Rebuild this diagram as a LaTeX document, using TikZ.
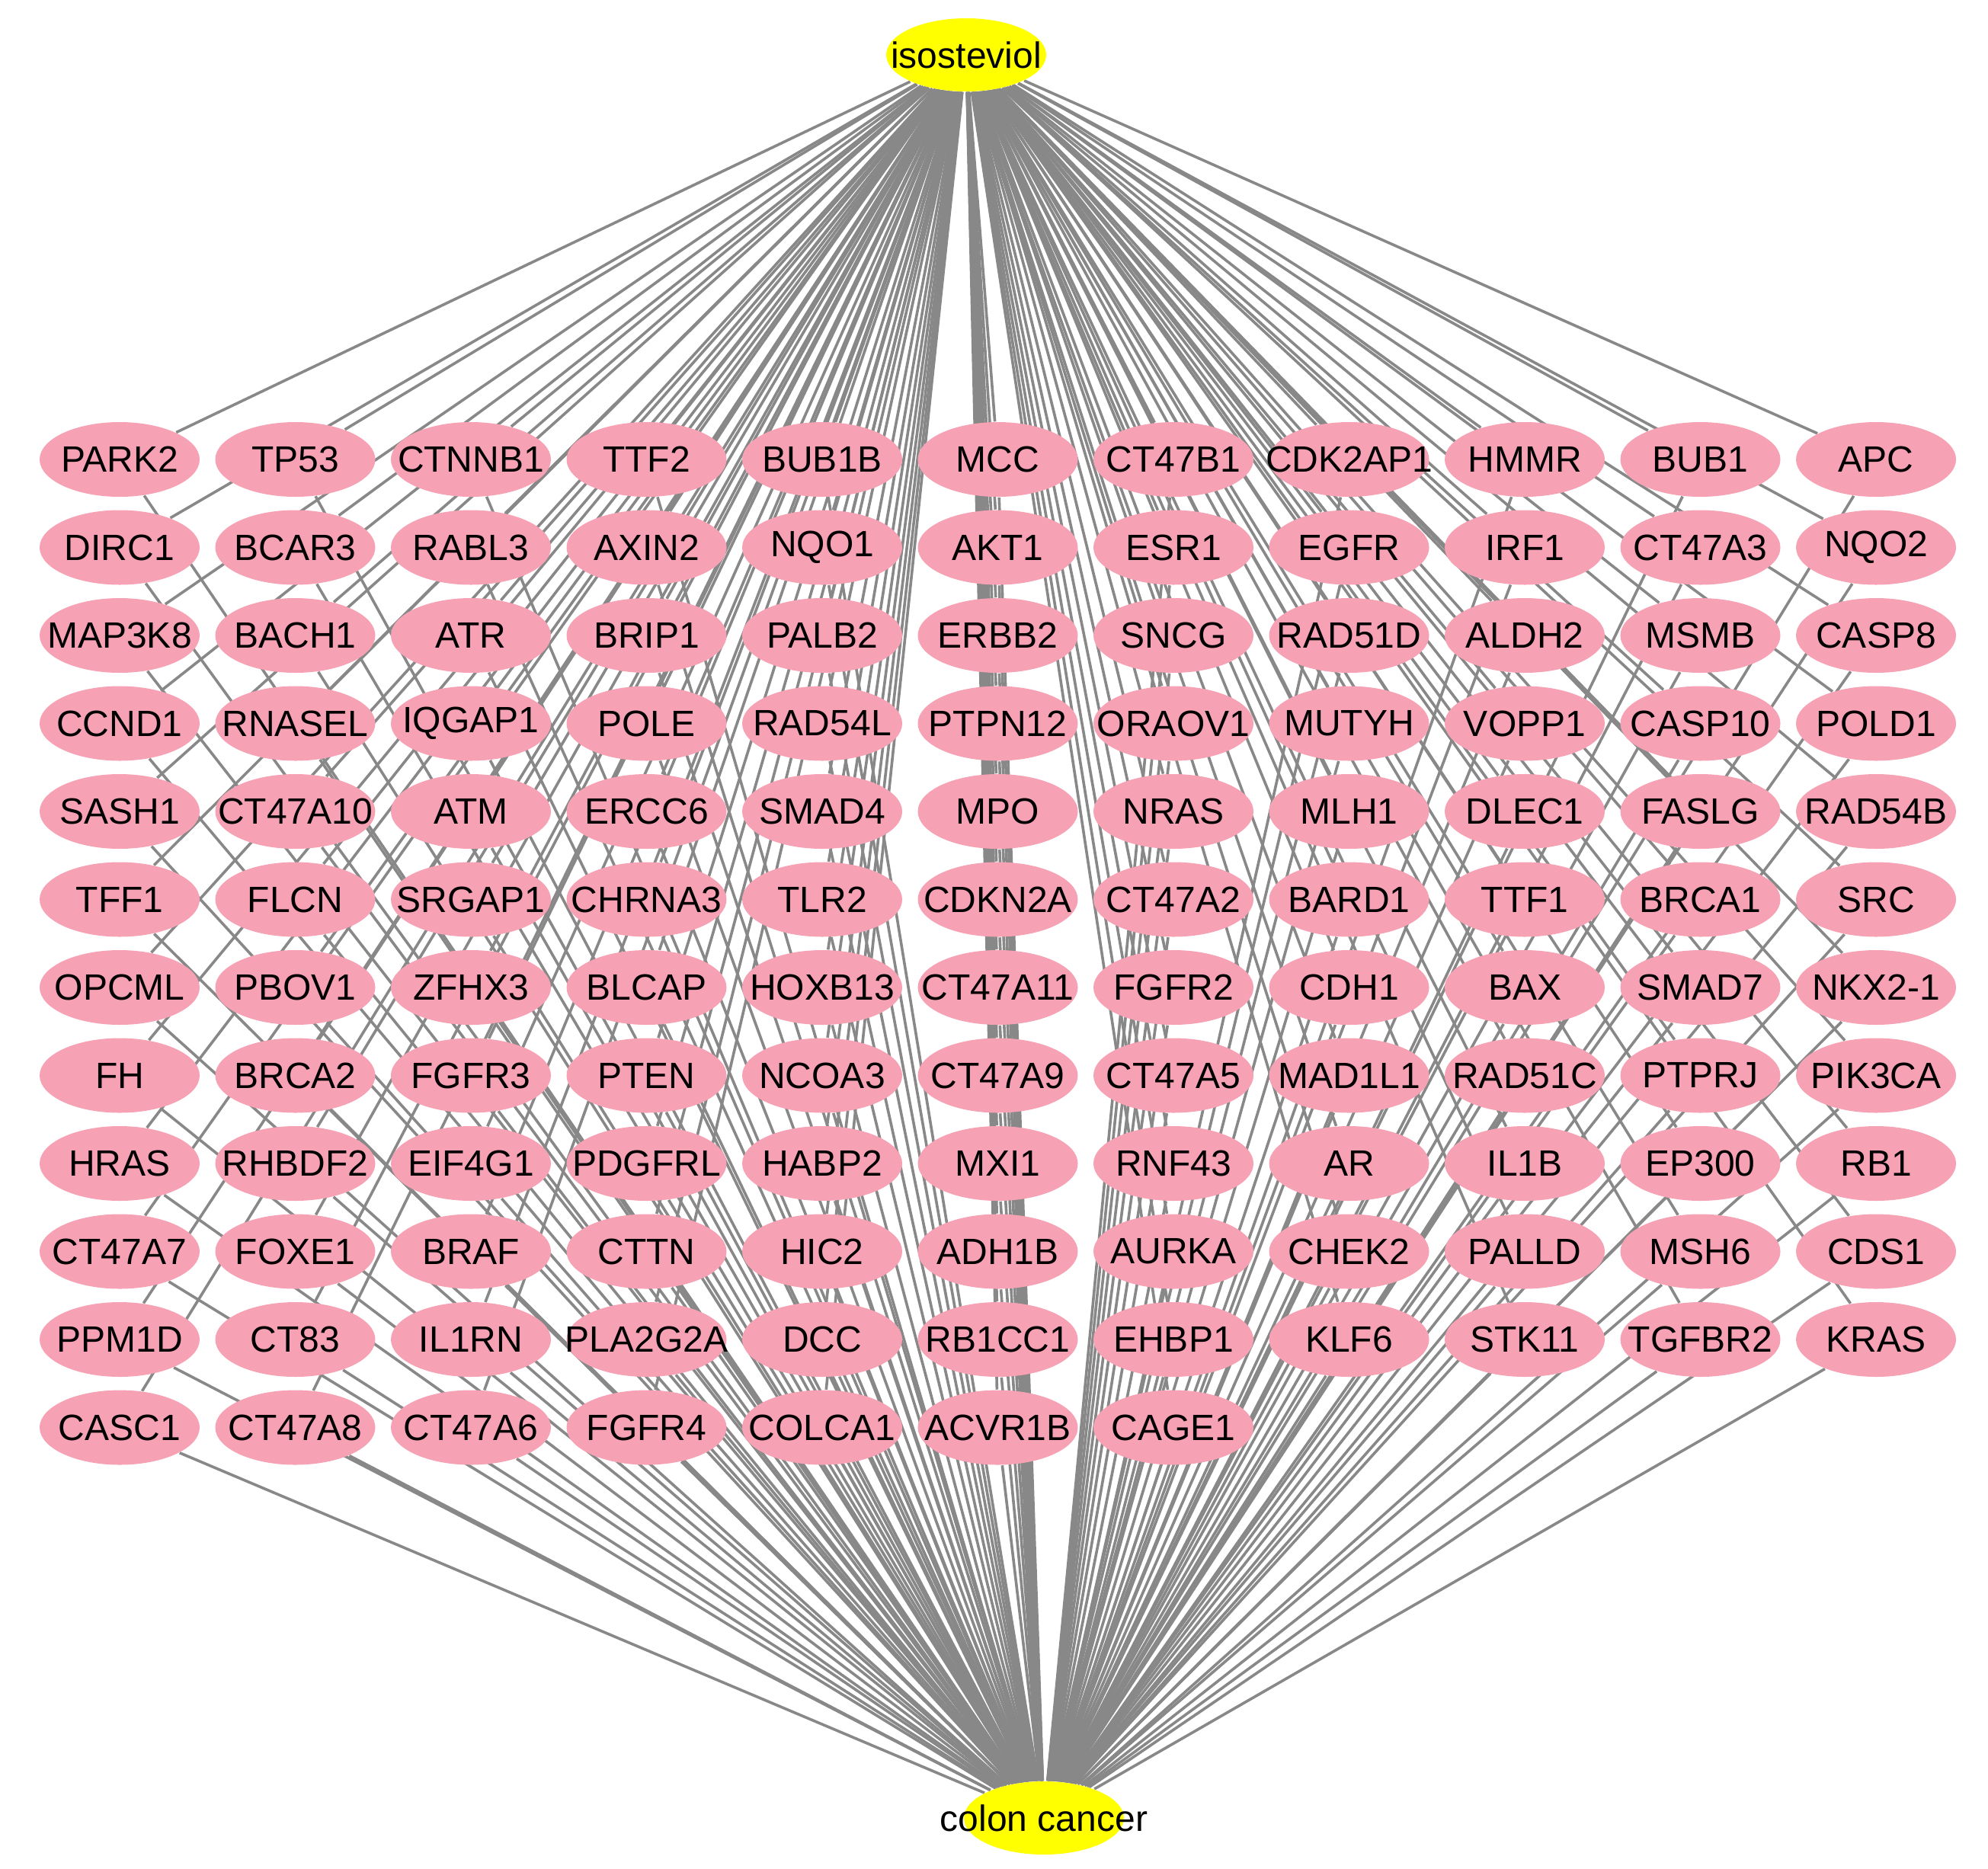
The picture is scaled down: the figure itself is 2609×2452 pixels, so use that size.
\documentclass[tikz,border=0pt]{standalone}
\usepackage{fontspec}
\setmainfont{Liberation Sans}
\usetikzlibrary{shapes.geometric,backgrounds}
\definecolor{genepink}{RGB}{247,161,180}
\definecolor{edgegray}{RGB}{136,136,136}
\definecolor{hubyellow}{RGB}{255,255,0}
\tikzset{
  gene/.style={ellipse,fill=genepink,draw=none,inner sep=0pt,minimum width=52.5pt,minimum height=24.5pt,font=\fontsize{12}{14}\selectfont},
  hub/.style={ellipse,fill=hubyellow,draw=none,inner sep=0pt,minimum width=52.5pt,minimum height=24pt,font=\fontsize{12}{14}\selectfont},
  edge/.style={draw=edgegray,line width=0.9pt}
}
\begin{document}
\begin{tikzpicture}[x=0.25pt,y=-0.25pt]
\useasboundingbox (0,0) rectangle (2609,2452);
\node[hub] (iso) at (1268,72) {\makebox[0pt]{isosteviol}};
\node[hub] (cc) at (1370,2386) {\makebox[0pt]{colon cancer}};
\foreach \row [count=\r] in {
 {PARK2,TP53,CTNNB1,TTF2,BUB1B,MCC,CT47B1,CDK2AP1,HMMR,BUB1,APC},
 {DIRC1,BCAR3,RABL3,AXIN2,NQO1,AKT1,ESR1,EGFR,IRF1,CT47A3,NQO2},
 {MAP3K8,BACH1,ATR,BRIP1,PALB2,ERBB2,SNCG,RAD51D,ALDH2,MSMB,CASP8},
 {CCND1,RNASEL,IQGAP1,POLE,RAD54L,PTPN12,ORAOV1,MUTYH,VOPP1,CASP10,POLD1},
 {SASH1,CT47A10,ATM,ERCC6,SMAD4,MPO,NRAS,MLH1,DLEC1,FASLG,RAD54B},
 {TFF1,FLCN,SRGAP1,CHRNA3,TLR2,CDKN2A,CT47A2,BARD1,TTF1,BRCA1,SRC},
 {OPCML,PBOV1,ZFHX3,BLCAP,HOXB13,CT47A11,FGFR2,CDH1,BAX,SMAD7,NKX2-1},
 {FH,BRCA2,FGFR3,PTEN,NCOA3,CT47A9,CT47A5,MAD1L1,RAD51C,PTPRJ,PIK3CA},
 {HRAS,RHBDF2,EIF4G1,PDGFRL,HABP2,MXI1,RNF43,AR,IL1B,EP300,RB1},
 {CT47A7,FOXE1,BRAF,CTTN,HIC2,ADH1B,AURKA,CHEK2,PALLD,MSH6,CDS1},
 {PPM1D,CT83,IL1RN,PLA2G2A,DCC,RB1CC1,EHBP1,KLF6,STK11,TGFBR2,KRAS},
 {CASC1,CT47A8,CT47A6,FGFR4,COLCA1,ACVR1B,CAGE1}} {
  \foreach \name [count=\c] in \row {
    \node[gene] (g\r x\c) at ({157+230.5*(\c-1)},{603+115.5*(\r-1)}) {\makebox[0pt]{\name}};
  }
}
\begin{pgfonlayer}{background}
\foreach \r/\n in {1/11,2/11,3/11,4/11,5/11,6/11,7/11,8/11,9/11,10/11,11/11,12/7} {
  \foreach \c in {1,...,\n} {
    \draw[edge] (iso) -- (g\r x\c);
    \draw[edge] (cc) -- (g\r x\c);
  }
}
\end{pgfonlayer}
\end{tikzpicture}
\end{document}
